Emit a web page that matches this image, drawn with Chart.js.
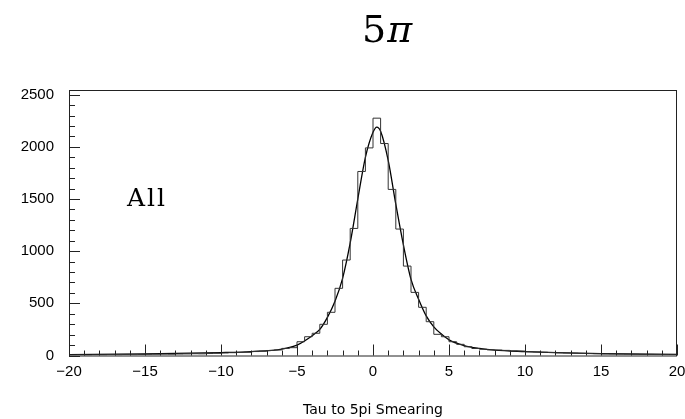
<!DOCTYPE html>
<html>
<head>
<meta charset="utf-8">
<script src="https://cdn.jsdelivr.net/npm/chart.js@4/dist/chart.umd.min.js"></script>
<style>
  html, body { margin: 0; padding: 0; background: #fff; }
  #wrap { width: 685px; height: 419px; }
</style>
</head>
<body>
<div id="wrap"><canvas id="smear" width="685" height="419"></canvas></div>
<script>

// histogram: 80 bins of 0.5 from -20 to 20
var binLow = -20;
var binWidth = 0.5;
var counts = [
  5, 6, 5, 7, 6, 8, 7, 9, 8, 10,
  11, 12, 13, 12, 14, 15, 17, 16, 19, 21,
  24, 27, 29, 31, 38, 41, 48, 53, 68, 75,
  132, 180, 213, 299, 414, 644, 915, 1218, 1764, 1990,
  2275, 2032, 1592, 1212, 857, 605, 462, 324, 203, 180,
  132, 107, 84, 67, 60, 55, 52, 49, 44, 42,
  36, 34, 31, 29, 26, 24, 22, 20, 18, 17,
  15, 14, 13, 12, 11, 10, 10, 9, 8, 8
];

// fitted curve, read point by point
var fitX = [-20, -15, -10, -8, -6, -5, -4, -3.5, -3, -2.5, -2, -1.5, -1, -0.5, 0, 0.25, 0.5, 1, 1.5, 2, 2.5, 3, 3.5, 4, 4.5, 5, 6, 7, 8, 10, 12, 15, 20];
var fitY = [8, 15, 28, 38, 62, 100, 190, 250, 365, 520, 740, 1080, 1500, 1900, 2140, 2190, 2150, 1870, 1450, 1060, 730, 540, 380, 275, 205, 150, 95, 68, 52, 38, 28, 18, 10];

var xTicks = [-20, -15, -10, -5, 0, 5, 10, 15, 20];
var yTicks = [0, 500, 1000, 1500, 2000, 2500];

// outline points at each bin's left edge, closed down to zero at both ends
var histPts = [{x: binLow, y: 0}];
for (var i = 0; i < counts.length; i++) {
  histPts.push({x: binLow + i * binWidth, y: counts[i]});
}
histPts.push({x: binLow + counts.length * binWidth, y: counts[counts.length - 1]});
histPts.push({x: binLow + counts.length * binWidth, y: 0});

var fitPts = [];
for (var j = 0; j < fitX.length; j++) {
  fitPts.push({x: fitX[j], y: fitY[j]});
}

// frame, inward ticks and the text labels
var frame = {
  id: 'frame',
  afterDraw: function(chart) {
    var ctx = chart.ctx;
    var a = chart.chartArea;
    var xs = chart.scales.x, ys = chart.scales.y;
    ctx.save();
    ctx.strokeStyle = '#222';
    ctx.lineWidth = 1;
    ctx.strokeRect(a.left + 0.5, a.top + 0.5, a.right - a.left - 1, a.bottom - a.top);

    ctx.beginPath();
    for (var v = -20; v <= 20; v++) {
      var px = Math.round(xs.getPixelForValue(v)) + 0.5;
      var len = (v % 5 === 0) ? 11 : 5;
      ctx.moveTo(px, a.bottom);
      ctx.lineTo(px, a.bottom - len);
    }
    for (var w = 0; w <= 2500; w += 100) {
      var py = Math.round(ys.getPixelForValue(w)) + 0.5;
      var l2 = (w % 500 === 0) ? 11 : 6;
      ctx.moveTo(a.left, py);
      ctx.lineTo(a.left + l2, py);
    }
    ctx.stroke();

    // title 5π
    ctx.fillStyle = '#000';
    ctx.textBaseline = 'alphabetic';
    ctx.textAlign = 'left';
    ctx.font = '38px "DejaVu Serif"';
    ctx.fillText('5', 362, 42);
    var w5 = ctx.measureText('5').width;
    ctx.font = 'italic 38px "DejaVu Serif"';
    ctx.fillText('π', 362 + w5 + 1, 42);

    // sample label
    ctx.font = '25px "DejaVu Serif"';
    ctx.letterSpacing = '2px';
    ctx.fillText('All', 127, 206);
    ctx.restore();
  }
};

new Chart(document.getElementById('smear').getContext('2d'), {
  type: 'line',
  data: {
    datasets: [
      {
        label: 'histogram',
        data: histPts,
        stepped: 'before',
        borderColor: '#333',
        borderWidth: 1,
        pointRadius: 0,
        fill: false
      },
      {
        label: 'fit',
        data: fitPts,
        cubicInterpolationMode: 'monotone',
        borderColor: '#000',
        borderWidth: 1.3,
        pointRadius: 0,
        fill: false
      }
    ]
  },
  options: {
    responsive: false,
    animation: false,
    devicePixelRatio: 1,
    layout: { padding: { top: 90, right: 0, left: 0, bottom: 0 } },
    plugins: {
      legend: { display: false },
      tooltip: { enabled: false },
      title: { display: false }
    },
    scales: {
      x: {
        type: 'linear',
        min: -20,
        max: 20,
        grid: { display: false, drawTicks: false },
        border: { display: false },
        afterBuildTicks: function(s) { s.ticks = xTicks.map(function(v) { return {value: v}; }); },
        afterFit: function(s) {
          s.height = 63.5;
          s.paddingLeft = 0;
          s.paddingRight = 8;
        },
        ticks: {
          padding: 7,
          maxRotation: 0,
          color: '#000',
          font: { family: 'Liberation Sans', size: 15 },
          callback: function(v) { return v < 0 ? '\u2212' + Math.abs(v) : String(v); }
        },
        title: {
          display: true,
          text: 'Tau to 5pi Smearing',
          color: '#000',
          font: { family: 'DejaVu Sans', size: 14 },
          padding: { top: 16, bottom: 0 }
        }
      },
      y: {
        type: 'linear',
        min: 0,
        max: 2545,
        grid: { display: false, drawTicks: false },
        border: { display: false },
        afterBuildTicks: function(s) { s.ticks = yTicks.map(function(v) { return {value: v}; }); },
        afterFit: function(s) { s.width = 69; },
        ticks: {
          padding: 15,
          color: '#000',
          font: { family: 'Liberation Sans', size: 15 },
          callback: function(v) { return String(v); }
        }
      }
    }
  },
  plugins: [frame]
});
</script>
</body>
</html>
